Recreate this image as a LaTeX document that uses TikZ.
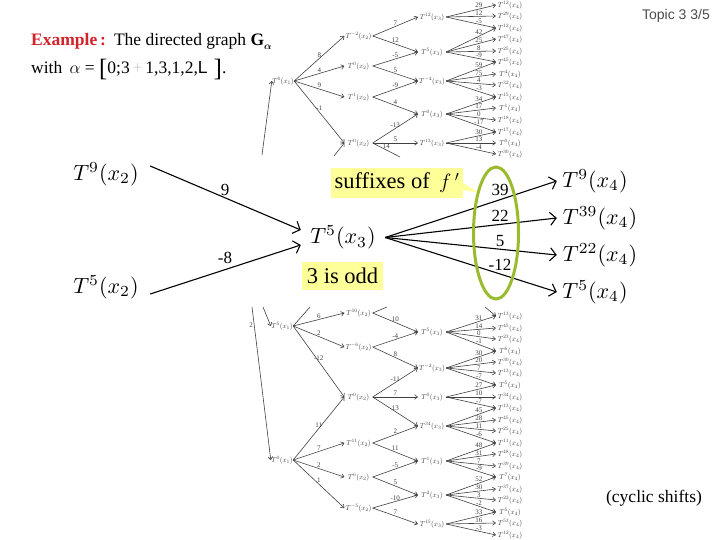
\documentclass[tikz,border=0pt]{standalone}
\usepackage{amsmath}
\usepackage{fontspec}
\setmainfont{Liberation Serif}
\newfontfamily\arialf{Liberation Sans}
\usetikzlibrary{arrows.meta,shapes.geometric}
\definecolor{boxyellow}{HTML}{FFFF99}
\definecolor{ringgreen}{HTML}{9BBB2E}
\definecolor{exred}{HTML}{D2232A}
\tikzset{
  x=1pt,y=-1pt,
  tree/.style={draw=black!75,line width=.6pt,-{To[length=3.5pt,width=5pt]}},
  treefree/.style={draw=black!75,line width=.6pt},
  tlab/.style={midway,font=\fontsize{7}{7}\selectfont,text=black!75,inner sep=0pt,yshift=3.5pt},
  tlabc/.style={pos=.66,font=\fontsize{7}{7}\selectfont,text=black!75,inner sep=0pt,yshift=3.5pt},
  tn/.style={inner sep=0pt,minimum width=28pt,minimum height=8pt,text=black!75},
  big/.style={inner sep=0pt,minimum height=15pt},
  main/.style={draw=black,line width=1.1pt,-{Straight Barb[length=6pt,width=13pt]}},
  mainlab/.style={inner sep=0pt,font=\fontsize{17}{17}\selectfont},
  yellowbox/.style={fill=boxyellow,inner sep=0pt,font=\fontsize{22.5}{24}\selectfont},
}
\newcommand{\smallT}[2]{\scalebox{.72}{$T^{#1}(x_{#2})$}}
\newcommand{\bigT}[2]{\scalebox{2.2}{$T^{#1}(x_{#2})$}}
\begin{document}
\begin{tikzpicture}
\useasboundingbox (0,0) rectangle (720,540);
% title
\node (topic) [anchor=center,inner sep=0pt,text=black!70,font=\arialf\fontsize{14}{15}\selectfont] at (676,16) {Topic 3 3/5};
\node (ex) [anchor=base west,inner sep=0pt,font=\fontsize{17.5}{18}\selectfont] at (31,46) {\textcolor{exred}{\textbf{Example\,:}}\hspace{8pt}The directed graph \textbf{G}\raisebox{-4pt}{\fontsize{10}{10}\selectfont$\boldsymbol{\alpha}$}};
\node (wi) [anchor=base west,inner sep=0pt,font=\fontsize{17.5}{18}\selectfont] at (31,74) {with \,$\alpha$ = \raisebox{-3pt}{\fontsize{25}{25}\selectfont[}0;3\,\textcolor{black!20}{+}\,1,3,1,2,{\arialf L}\hspace{6pt}\raisebox{-3pt}{\fontsize{25}{25}\selectfont]}.};
\node (cy) [inner sep=0pt,font=\fontsize{17.5}{18}\selectfont] at (654,498) {(cyclic shifts)};

% ---------- upper tree ----------
\node[tn,minimum width=22pt] (r1) at (283,81) {\smallT{0}{1}};
\coordinate (r1in) at (262,155);
\draw[tree] (r1in) -- (r1.west);
\foreach \n/\y/\e in {p1/36/-2,p2/66/0,p3/97/1,p4/143/0}
  \node[tn] (\n) at (358.5,\y) {\smallT{\e}{2}};
\foreach \n/\y/\e in {q1/17/12,q2/52/5,q3/81/-4,q4/114/0,q5/143/13}
  \node[tn] (\n) at (432,\y) {\smallT{\e}{3}};
\foreach \n/\y/\e in {s1/5/12,s2/16/29,s3/28/12,s4/39/47,s5/51/25,s6/62/45,s7/74/4,s8/85/32,s9/97/15,s10/108/1,s11/120/18,s12/132/17,s13/143/0,s14/154/30}
  \node[tn,minimum width=28pt] (\n) at (510,\y) {\smallT{\e}{4}};
\foreach \a/\b/\l in {r1/p1/8,r1/p2/4,r1/p3/9,r1/p4/-1}
  \draw[tree] (\a.east) -- node[tlab]{\l} (\b.west);
\foreach \a/\b/\l in {p1/q1/7,p1/q2/12,p2/q2/-5,p2/q3/5,p3/q3/-9,p3/q4/4,p4/q4/-13,p4/q5/5}
  \draw[tree] (\a.east) -- node[tlab]{\l} (\b.west);
\coordinate (p4out) at (400,157);
\draw[treefree] (p4.east) -- node[tlab]{14} (p4out);
\coordinate (p4in) at (334,156);
\draw[tree] (p4in) -- (p4.west);
\foreach \a/\b/\l in {q1/s1/29,q1/s2/12,q1/s3/-5,q2/s3/42,q2/s4/25,q2/s5/8,q2/s6/-9,q3/s6/59,q3/s7/75,q3/s8/4,q3/s9/-3,q4/s9/34,q4/s10/17,q4/s11/0,q4/s12/-17,q5/s12/30,q5/s13/13,q5/s14/-4}
  \draw[tree] (\a.east) -- node[tlabc]{\l} (\b.west);

% ---------- lower tree ----------
\node[tn,minimum width=22pt] (r2) at (282,326) {\smallT{5}{1}};
\node[tn,minimum width=22pt] (r3) at (282,460) {\smallT{0}{1}};
\coordinate (r2in) at (263,307);
\coordinate (r3in) at (252,307);
\coordinate (r2out) at (310,307);
\draw[tree] (r2in) -- (r2.west);
\draw[tree] (r3in) -- node[pos=.12,left=1pt,font=\fontsize{7}{7}\selectfont,text=black!75,inner sep=0pt]{2} (r3.west);
\draw[treefree] (r2.east) -- (r2out);
\foreach \n/\y/\e in {u1/313/10,u2/347/-6,u3/397/0,u4/443/11,u5/477/6,u6/508/-5}
  \node[tn] (\n) at (358.5,\y) {\smallT{\e}{2}};
\foreach \n/\y/\e in {v1/332/5,v2/368/-2,v3/397/0,v4/426/34,v5/461/1,v6/495/2,v7/524/15}
  \node[tn] (\n) at (432,\y) {\smallT{\e}{3}};
\foreach \n/\y/\e in {w1/316/13,w2/328/45,w3/339/23,w4/351/6,w5/362/30,w6/373/13,w7/385/5,w8/397/34,w9/408/13,w10/420/45,w11/431/25,w12/443/11,w13/454/48,w14/466/39,w15/477/7,w16/489/37,w17/500/22,w18/512/5,w19/523/53,w20/535/12}
  \node[tn] (\n) at (510,\y) {\smallT{\e}{4}};
\foreach \a/\b/\l in {r2/u1/6,r2/u2/2,r2/u3/-12,r3/u3/11,r3/u4/7,r3/u5/2,r3/u6/1}
  \draw[tree] (\a.east) -- node[tlab]{\l} (\b.west);
\coordinate (u1out) at (387,307);
\draw[treefree] (u1.east) -- (u1out);
\foreach \a/\b/\l in {u1/v1/10,u2/v1/-4,u2/v2/8,u3/v2/-11,u3/v3/7,u3/v4/13,u4/v4/2,u4/v5/11,u5/v5/-5,u5/v6/5,u6/v6/-10,u6/v7/7}
  \draw[tree] (\a.east) -- node[tlab]{\l} (\b.west);
\coordinate (w1in) at (485,307);
\draw[tree] (w1in) -- (w1.west);
\foreach \a/\b/\l in {v1/w1/31,v1/w2/14,v1/w3/0,v1/w4/-1,v2/w4/30,v2/w5/20,v2/w6/7,v2/w7/-7,v3/w7/27,v3/w8/10,v3/w9/-7,v4/w9/45,v4/w10/28,v4/w11/11,v4/w12/-6,v5/w12/48,v5/w13/31,v5/w14/7,v5/w15/-9,v6/w15/52,v6/w16/30,v6/w17/3,v6/w18/-2,v7/w18/33,v7/w19/16,v7/w20/-3}
  \draw[tree] (\a.east) -- node[tlabc]{\l} (\b.west);

% ---------- centre ----------
\node[yellowbox,minimum width=132pt,minimum height=30pt] (suf) at (397,183) {suffixes of\, $f\,'$};
\node[yellowbox,minimum width=81pt,minimum height=28pt] (odd) at (342.5,276) {3 is odd};
\node[ellipse,inner sep=0pt,minimum width=45pt,minimum height=132pt] (ringpos) at (496,233) {};
\fill[boxyellow] (suf.east) -- (ringpos.114) -- ([yshift=-7pt]suf.east) -- cycle;

\node[big,minimum width=88pt] (a) at (106,174) {\bigT{9}{2}};
\node[big,minimum width=88pt] (b) at (106,287) {\bigT{5}{2}};
\node[big,minimum width=84pt] (c) at (343,237.5) {\bigT{5}{3}};
\node[big,minimum width=76pt] (d1) at (595,181) {\bigT{9}{4}};
\node[big,minimum width=86pt] (d2) at (600,218) {\bigT{39}{4}};
\node[big,minimum width=86pt] (d3) at (600,255) {\bigT{22}{4}};
\node[big,minimum width=76pt] (d4) at (595,292) {\bigT{5}{4}};
\draw[main] ([yshift=8pt]a.east) -- ([yshift=7.5pt]c.west);
\draw[main] ([yshift=-7pt]b.east) -- ([yshift=-7.5pt]c.west);
\foreach \d in {d1,d2,d3,d4} \draw[main] (c.east) -- (\d.west);
\node[draw=ringgreen,line width=3pt,ellipse,inner sep=0pt,minimum width=45pt,minimum height=132pt] (ring) at (496,233) {};
\node[mainlab] (l9) at (225,190) {9};
\node[mainlab] (l8) at (225,258) {-8};
\node[mainlab] (l39) at (500,190) {39};
\node[mainlab] (l22) at (500,216) {22};
\node[mainlab] (l5) at (500,241) {5};
\node[mainlab] (l12) at (500,265) {-12};
\end{tikzpicture}
\end{document}
